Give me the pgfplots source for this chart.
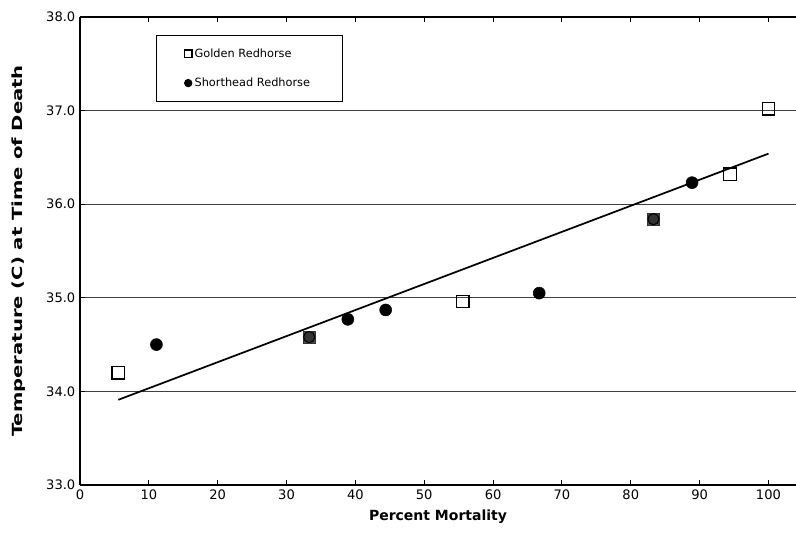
\documentclass[border=0pt]{standalone}
\usepackage{pgfplots}
\pgfplotsset{compat=1.18}
\usepackage{fontspec}
\setmainfont{DejaVu Sans}
\begin{document}
\begin{tikzpicture}
\begin{axis}[
  scale only axis, width=537pt, height=351pt,
  xmin=0, xmax=104, ymin=33, ymax=38,
  axis x line*=box, axis y line*=left,
  axis line style={line width=1.4pt},
  xtick={0,10,...,100}, ytick={33,34,...,38},
  /pgf/number format/assume math mode=true,
  yticklabel style={/pgf/number format/.cd, fixed, fixed zerofill, precision=1},
  tick label style={font=\fontsize{9.8}{11}\selectfont},
  tick style={black, line width=0.8pt}, major tick length=4pt,
  ymajorgrids, major grid style={black!75, line width=0.7pt},
  xlabel={\bfseries Percent Mortality},
  ylabel={\bfseries Temperature (C) at Time of Death},
  label style={font=\fontsize{10.5}{12}\selectfont},
  xlabel style={yshift=-1pt},
  ylabel style={xscale=1.4, yshift=9pt},
  legend style={at={(axis cs:11.05,37.81)}, anchor=north west, draw=black, line width=0.6pt,
    font=\fontsize{8.5}{9.5}\selectfont, inner xsep=21pt, inner ysep=8pt, row sep=10pt},
  legend cell align=left,
  legend image post style={mark size=2.8pt},
]
\addplot[only marks, mark=square, mark size=4.7pt, draw=black, line width=0.9pt, fill=white]
  coordinates {(5.56,34.20) (55.6,34.96) (94.4,36.32) (100,37.02)};
\addlegendentry{\makebox[88pt][l]{Golden Redhorse}}
\addplot[only marks, mark=*, mark size=4.5pt, draw=black, fill=black]
  coordinates {(11.1,34.50) (38.9,34.77) (44.4,34.87) (66.7,35.05) (88.9,36.23)};
\addlegendentry{\makebox[88pt][l]{Shorthead Redhorse}}
\addplot[only marks, mark=square*, mark size=4.7pt, draw=black!80, fill=black!70, forget plot]
  coordinates {(33.3,34.58) (83.3,35.84)};
\addplot[only marks, mark=*, mark size=4.2pt, draw=black, fill=black!80, line width=0.8pt, forget plot]
  coordinates {(33.3,34.58) (83.3,35.84)};
\addplot[black, line width=1.3pt, forget plot]
  coordinates {(5.56,33.91) (100,36.54)};
\end{axis}
\pgfresetboundingbox
\path[use as bounding box] ([shift={(-60pt,-47pt)}]current axis.south west) rectangle ([shift={(0pt,12.75pt)}]current axis.north east);
\end{tikzpicture}
\end{document}
